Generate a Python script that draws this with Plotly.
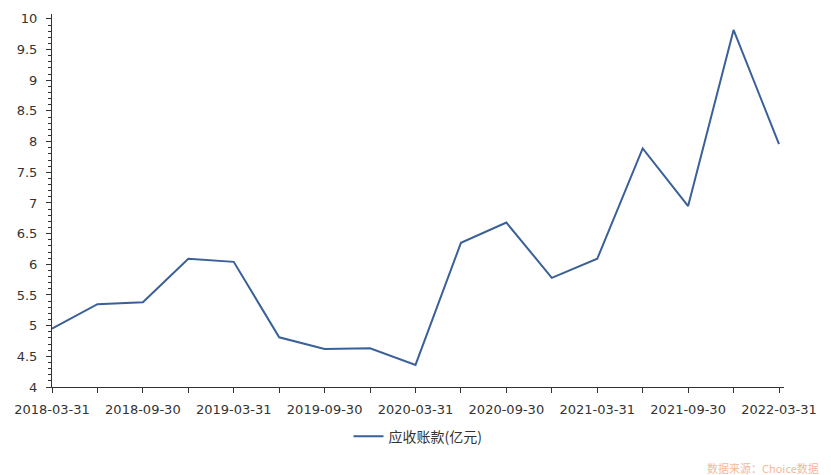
import plotly.graph_objects as go

dates = ["2018-03-31", "2018-06-30", "2018-09-30", "2018-12-31", "2019-03-31",
         "2019-06-30", "2019-09-30", "2019-12-31", "2020-03-31", "2020-06-30",
         "2020-09-30", "2020-12-31", "2021-03-31", "2021-06-30", "2021-09-30",
         "2021-12-31", "2022-03-31"]
values = [4.95, 5.35, 5.38, 6.09, 6.04, 4.81, 4.62, 4.63, 4.36, 6.35,
          6.68, 5.78, 6.09, 7.89, 6.95, 9.82, 7.96]
series_name = "应收账款(亿元)"
y_ticks = [4, 4.5, 5, 5.5, 6, 6.5, 7, 7.5, 8, 8.5, 9, 9.5, 10]
y_tick_text = ["4", "4.5", "5", "5.5", "6", "6.5", "7", "7.5", "8", "8.5", "9", "9.5", "10"]

idx = list(range(len(dates)))
tick_text = [d if i % 2 == 0 else "" for i, d in enumerate(dates)]

font_family = "DejaVu Sans, Verdana, sans-serif"

fig = go.Figure()
fig.add_trace(go.Scatter(
    x=idx, y=values, mode="lines", name=series_name,
    line=dict(color="#3a6098", width=2),
))

fig.update_layout(
    width=831, height=475,
    margin=dict(l=52, r=47, t=11, b=88),
    plot_bgcolor="white", paper_bgcolor="white",
    font=dict(family=font_family, size=13, color="#333333"),
    showlegend=True,
    legend=dict(orientation="h", x=0.5, xanchor="center", y=-0.09, yanchor="top",
                font=dict(size=14, family="Noto Sans CJK SC, sans-serif", color="#333333")),
    xaxis=dict(
        range=[0, 16.11], tickmode="array", tickvals=idx, ticktext=tick_text,
        showgrid=False, zeroline=False, showline=True, linecolor="#333333", linewidth=1,
        ticks="outside", ticklen=5, tickcolor="#333333", tickangle=0,
        tickfont=dict(size=13, color="#333333"), ticklabelstandoff=5,
    ),
    yaxis=dict(
        range=[4, 10.08], tickmode="array", tickvals=y_ticks, ticktext=y_tick_text,
        showgrid=False, zeroline=False, showline=True, linecolor="#333333", linewidth=1,
        ticks="outside", ticklen=5, tickcolor="#333333",
        tickfont=dict(size=13, color="#333333"), ticklabelstandoff=6,
        minor=dict(dtick=0.1, ticks="outside", ticklen=3, tickcolor="#333333", showgrid=False),
    ),
)

fig.add_annotation(
    text="数据来源：Choice数据", xref="paper", yref="paper", x=1.05, y=-0.19,
    xanchor="right", yanchor="top", showarrow=False,
    font=dict(size=11, color="#f5b89a", family="Noto Sans CJK SC, sans-serif"),
)

fig.write_html("out.html", config={"displayModeBar": False},
               post_script="document.body.style.margin='0px';document.body.style.padding='0px';")
